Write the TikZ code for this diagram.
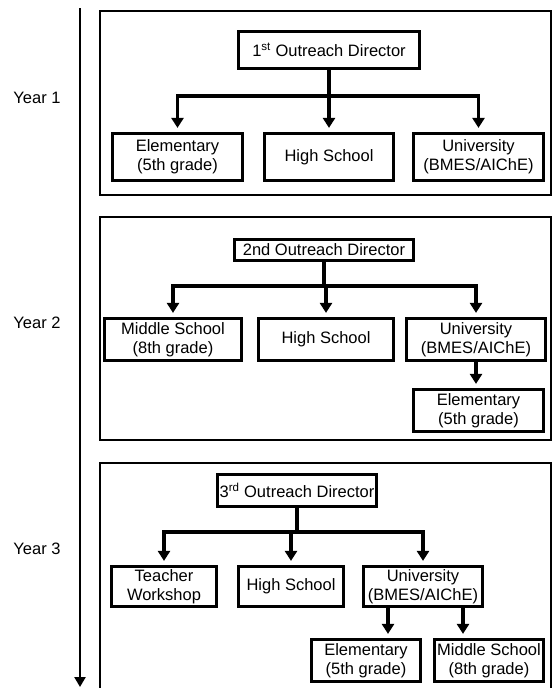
\documentclass[tikz,border=0pt]{standalone}
\usepackage{fontspec}
\setmainfont{Liberation Sans}
\usetikzlibrary{arrows.meta}
\tikzset{
  box/.style={draw, line width=3.2pt, align=center, inner sep=0pt, font=\fontsize{16.5}{19}\selectfont},
  panel/.style={draw, line width=1.6pt},
  arr/.style={line width=3.2pt, -{Triangle[length=10pt,width=12pt]}, shorten >=4pt},
  link/.style={line width=3.2pt},
  yearlbl/.style={font=\fontsize{16.5}{19}\selectfont, inner sep=0pt},
}
\begin{document}
\begin{tikzpicture}[x=1pt,y=-1pt]
\useasboundingbox (0,0) rectangle (553,688);
% timeline
\coordinate (tltop) at (80,8);
\coordinate (tlbot) at (80,687);
\draw[line width=2.4pt, -{Triangle[length=10pt,width=11pt]}] (tltop) -- (tlbot);
\node[yearlbl] (y1) at (37,98) {Year 1};
\node[yearlbl] (y2) at (37,323) {Year 2};
\node[yearlbl] (y3) at (37,549) {Year 3};
% panels
\draw[panel] (100,11) rectangle (551,195);
\draw[panel] (100,217) rectangle (551,440);
\draw[panel] (100,688) -- (100,463) -- (551,463) -- (551,688);

% Panel 1
\node[box, minimum width=181pt, minimum height=37pt] (d1) at (329,50) {1\textsuperscript{st} Outreach Director};
\node[box, minimum width=130pt, minimum height=47pt] (e1) at (177.5,157) {Elementary\\(5th grade)};
\node[box, minimum width=129pt, minimum height=47pt] (h1) at (329,157) {High School};
\node[box, minimum width=130pt, minimum height=47pt] (u1) at (478.5,157) {University\\(BMES/AIChE)};
\coordinate (j1) at (329,96);
\draw[link] (d1.south) -- (j1);
\draw[arr] (j1) -| (e1.north);
\draw[arr] (j1) -- (h1.north);
\draw[arr] (j1) -| (u1.north);

% Panel 2
\node[box, minimum width=179pt, minimum height=21pt] (d2) at (324,250) {2nd Outreach Director};
\node[box, minimum width=137pt, minimum height=42pt] (m2) at (173,339.5) {Middle School\\(8th grade)};
\node[box, minimum width=135pt, minimum height=42pt] (h2) at (326,339.5) {High School};
\node[box, minimum width=139pt, minimum height=42pt] (u2) at (476,339.5) {University\\(BMES/AIChE)};
\node[box, minimum width=130pt, minimum height=42pt] (el2) at (478.5,410.5) {Elementary\\(5th grade)};
\coordinate (j2) at (324,286);
\draw[link] (d2.south) -- (j2);
\draw[arr] (j2) -| (m2.north);
\draw[arr] (j2) -| (h2.north);
\draw[arr] (j2) -| (u2.north);
\draw[arr] (u2.south) -- (u2.south |- el2.north);

% Panel 3
\node[box, minimum width=159pt, minimum height=32pt] (d3) at (297,490.5) {3\textsuperscript{rd} Outreach Director};
\node[box, minimum width=105pt, minimum height=40pt] (t3) at (164,586.5) {Teacher\\Workshop};
\node[box, minimum width=105pt, minimum height=40pt] (h3) at (291,586.5) {High School};
\node[box, minimum width=119pt, minimum height=40pt] (u3) at (423,586.5) {University\\(BMES/AIChE)};
\node[box, minimum width=109pt, minimum height=42pt] (el3) at (366,660.5) {Elementary\\(5th grade)};
\node[box, minimum width=109pt, minimum height=42pt] (ms3) at (489,660.5) {Middle School\\(8th grade)};
\coordinate (j3) at (297,532);
\draw[link] (d3.south) -- (j3);
\draw[arr] (j3) -| (t3.north);
\draw[arr] (j3) -| (h3.north);
\draw[arr] (j3) -| (u3.north);
\coordinate (s1) at ([xshift=-35pt]u3.south);
\coordinate (s2) at ([xshift=40pt]u3.south);
\draw[arr] (s1) -- (s1 |- el3.north);
\draw[arr] (s2) -- (s2 |- ms3.north);
\end{tikzpicture}
\end{document}
